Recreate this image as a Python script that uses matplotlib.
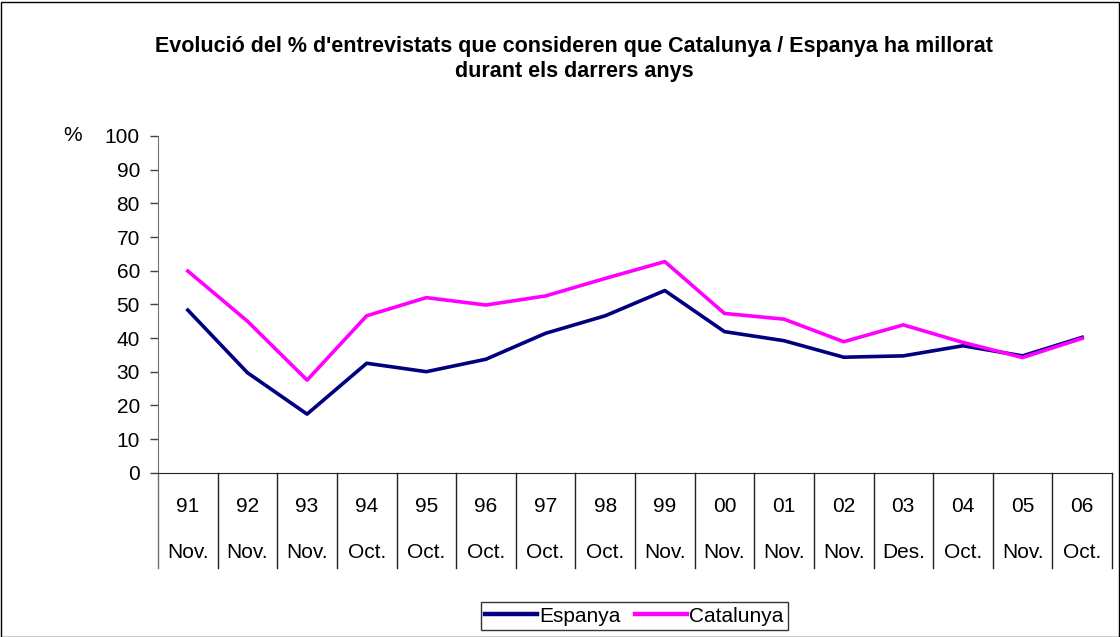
import matplotlib
matplotlib.use("Agg")
import matplotlib.pyplot as plt
import matplotlib.transforms as mtransforms
from matplotlib.patches import Rectangle

plt.rcParams['font.family'] = ['Liberation Sans', 'DejaVu Sans']

# data
years = ['91', '92', '93', '94', '95', '96', '97', '98', '99', '00',
         '01', '02', '03', '04', '05', '06']
months = ['Nov.', 'Nov.', 'Nov.', 'Oct.', 'Oct.', 'Oct.', 'Oct.', 'Oct.',
          'Nov.', 'Nov.', 'Nov.', 'Nov.', 'Des.', 'Oct.', 'Nov.', 'Oct.']
espanya = [48.3, 29.7, 17.4, 32.5, 30.0, 33.7, 41.4, 46.6, 54.1, 41.9,
           39.2, 34.3, 34.7, 37.7, 34.7, 40.2]
catalunya = [59.9, 45.0, 27.5, 46.6, 52.0, 49.8, 52.5, 57.7, 62.7, 47.3,
             45.6, 38.9, 43.9, 38.7, 34.2, 39.9]

W, H = 1120, 637
fig = plt.figure(figsize=(W / 100, H / 100), dpi=100)
ax = fig.add_axes([158 / W, (H - 472.7) / H, (1112 - 158) / W, (472.7 - 136) / H])

x = list(range(len(years)))
ax.plot(x, espanya, color='#000080', lw=2.6, label='Espanya')
ax.plot(x, catalunya, color='#FF00FF', lw=2.6, label='Catalunya')

ax.set_xlim(-0.5, len(years) - 0.5)
ax.set_ylim(0, 100)
ax.set_yticks(range(0, 101, 10))
ax.tick_params(axis='y', direction='out', length=6, width=1, color='#404040',
               labelsize=15, pad=7)
ax.spines['top'].set_visible(False)
ax.spines['right'].set_visible(False)
ax.spines['left'].set_color('#707070')
ax.spines['bottom'].set_color('#202020')

# category table under the axis
ax.set_xticks([])
trans = mtransforms.blended_transform_factory(ax.transData, ax.transAxes)
ax_h = 472.7 - 136
for b in range(len(years) + 1):
    ax.plot([b - 0.5, b - 0.5], [0, -95 / ax_h], transform=trans,
            color='#707070' if b == 0 else '#202020', lw=1, clip_on=False)
for i, (yr, mo) in enumerate(zip(years, months)):
    ax.text(i, -34 / ax_h, yr, transform=trans, ha='center', va='center', fontsize=15)
    ax.text(i, -80 / ax_h, mo, transform=trans, ha='center', va='center', fontsize=15)

ax.text((72.5 - 158) / (1112 - 158), 1.0, '%', transform=ax.transAxes,
        ha='center', va='center', fontsize=15)

fig.text(574 / W, 1 - 59 / H,
         "Evolució del % d'entrevistats que consideren que Catalunya / Espanya ha millorat\n"
         "durant els darrers anys",
         ha='center', va='center', fontsize=15.5, fontweight='bold', linespacing=1.3)

leg = fig.legend(loc='center', bbox_to_anchor=(634 / W, 1 - 616 / H), ncol=2,
                 fontsize=15, frameon=True, fancybox=False, edgecolor='black',
                 handlelength=2.5, handletextpad=0.1, columnspacing=0.7,
                 borderpad=0.2, borderaxespad=0)
leg.get_frame().set_linewidth(1)
for line in leg.get_lines():
    line.set_linewidth(3.2)

fig.patches.append(Rectangle((0.5 / W, 0.5 / H), 1 - 2 / W, 1 - 2 / H,
                             transform=fig.transFigure, fill=False,
                             edgecolor='black', lw=1))

fig.savefig('out.png', dpi=100)
